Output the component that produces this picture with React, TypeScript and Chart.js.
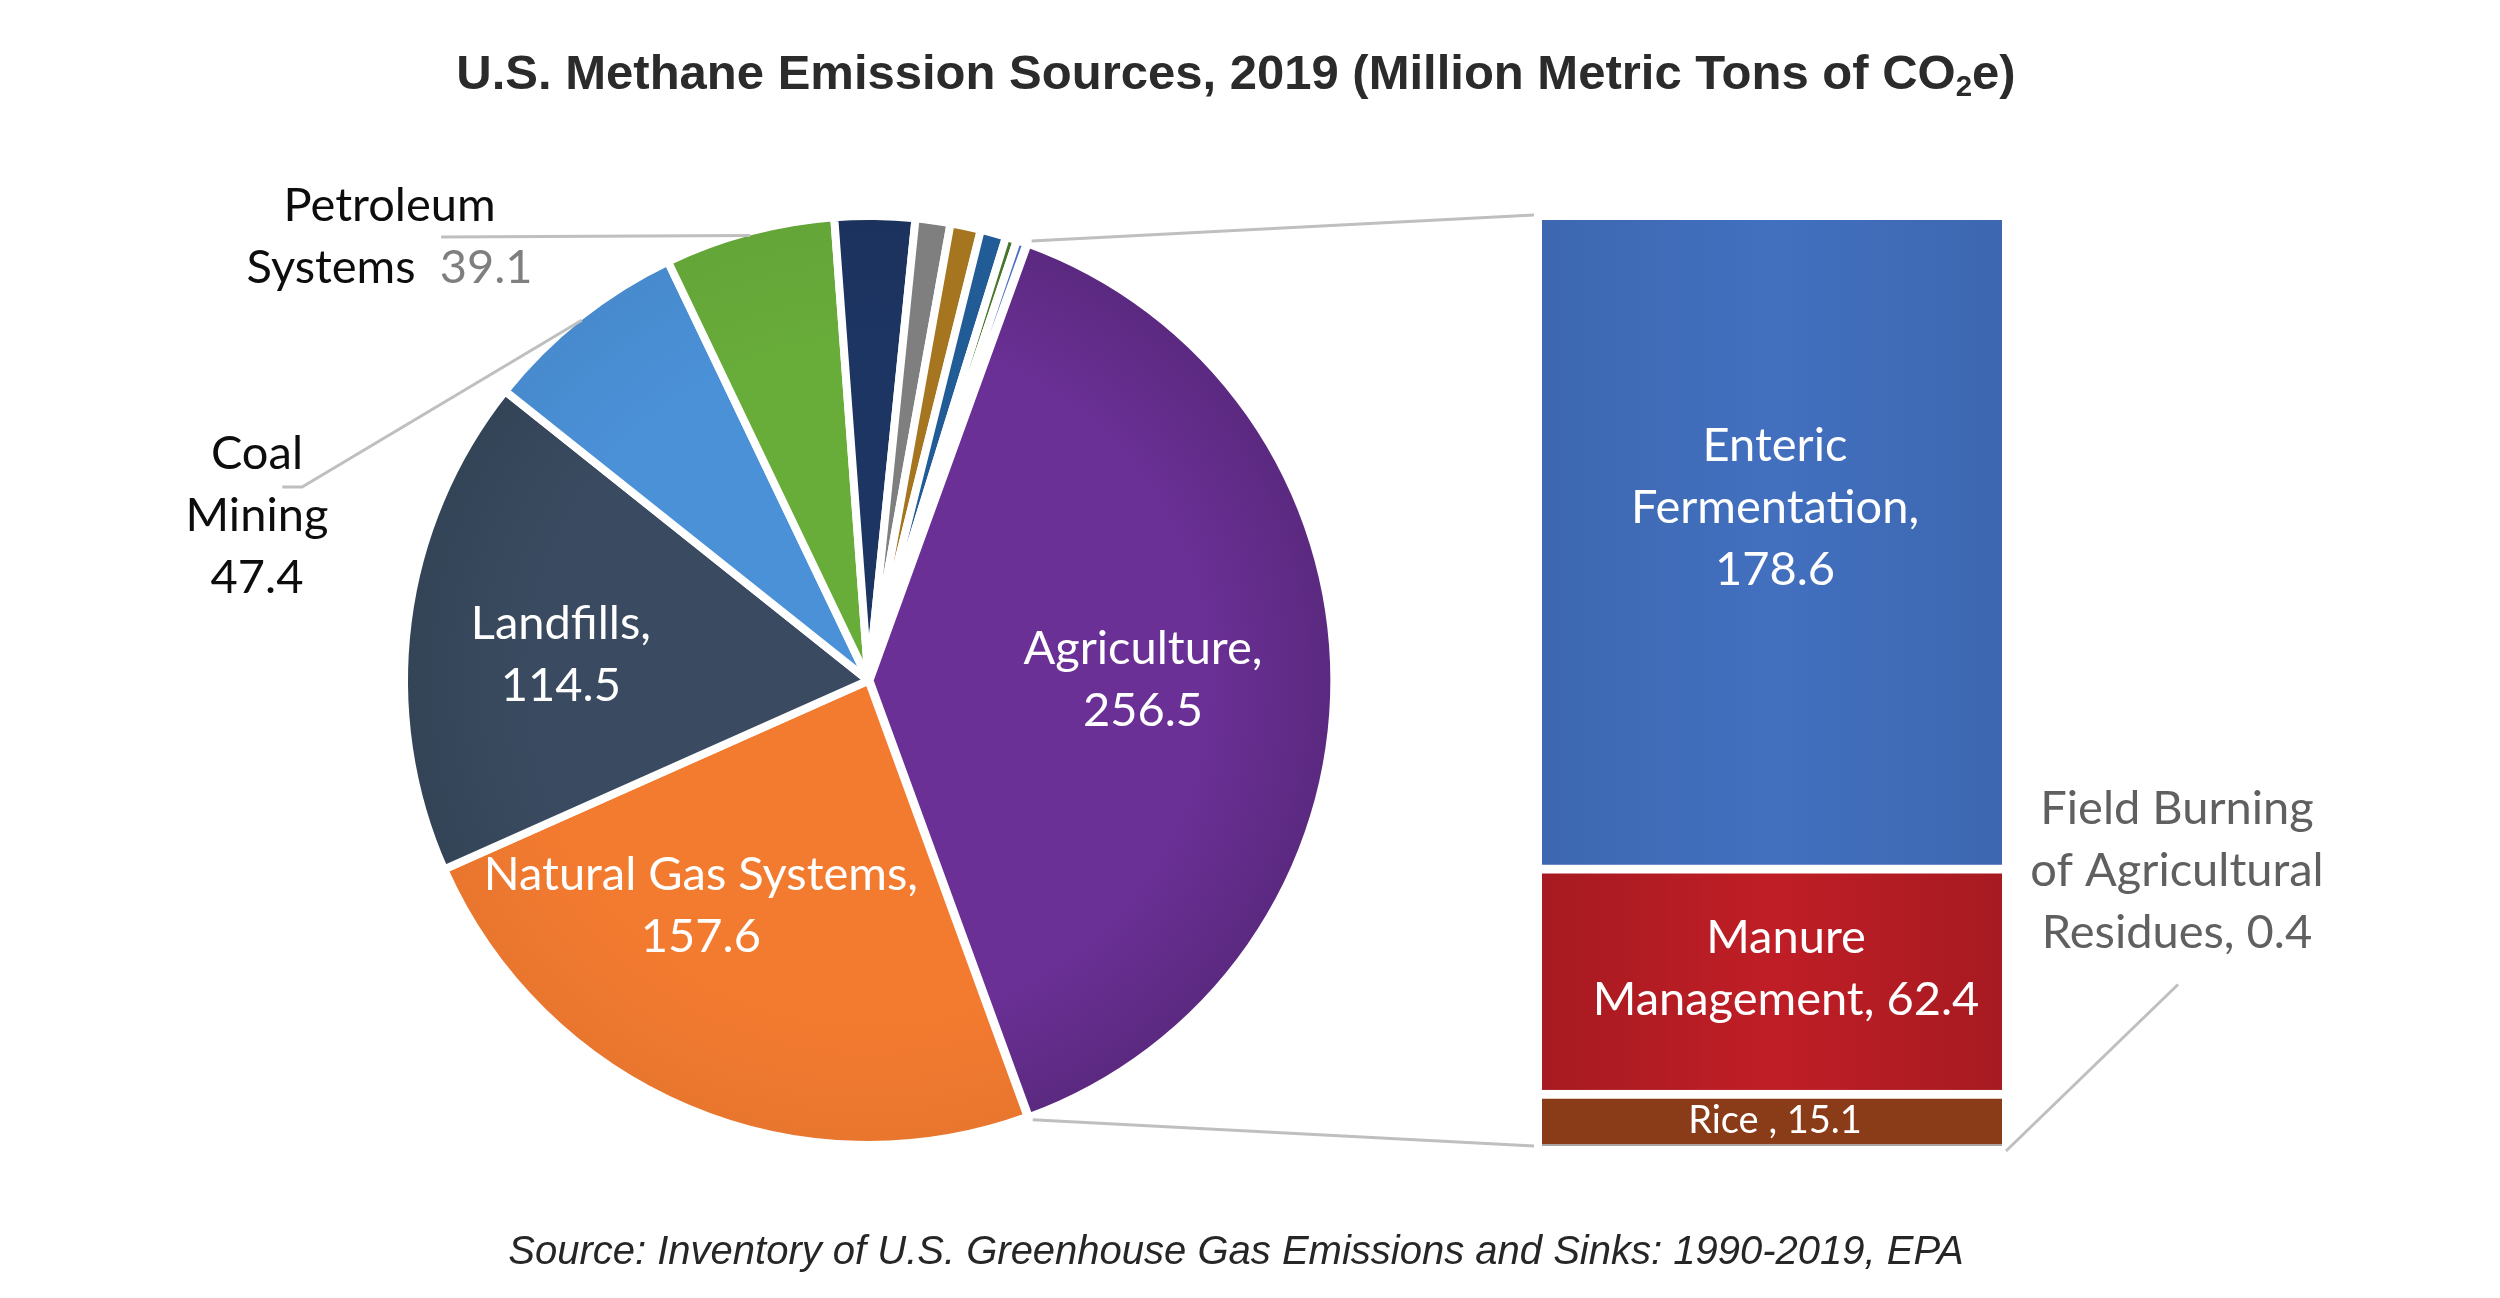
import React, { useEffect, useRef } from "react";
import { Chart, registerables } from "chart.js";

Chart.register(...registerables);

// U.S. methane sources, 2019 (MMT CO2e), clockwise starting with Agriculture
const sourceLabels = [
  "Agriculture",
  "Natural Gas Systems",
  "Landfills",
  "Coal Mining",
  "Petroleum Systems",
  "Wastewater Treatment",
  "Stationary Combustion",
  "Abandoned Oil and Gas Wells",
  "Abandoned Underground Coal Mines",
  "Mobile Combustion",
  "Composting",
];
const sourceValues = [256.5, 157.6, 114.5, 47.4, 39.1, 18.4, 8.0, 7.0, 5.9, 2.6, 2.3];
const sourceColors = [
  "#6b3096",
  "#f37b30",
  "#3a4b61",
  "#4b91d8",
  "#68ac3a",
  "#1d3563",
  "#7f7f7f",
  "#a5751f",
  "#225c96",
  "#47752b",
  "#4a6ec4",
];
// how much each wedge darkens towards the rim
const sourceEdgeShade = [0.15, 0.04, 0.1, 0.05, 0.04, 0.05, 0, 0, 0, 0, 0];

// Agriculture breakdown, stacked bottom to top
const agLabels = [
  "Field Burning of Agricultural Residues",
  "Rice",
  "Manure Management",
  "Enteric Fermentation",
];
const agValues = [0.4, 15.1, 62.4, 178.6];
const agColors = ["#a5a5a5", "#8a3b18", "#c01e26", "#4270bf"];
const agEdgeShade = [0, 0, 0.13, 0.08];

const PAGE_W = 2500;
const PAGE_H = 1298;
const PIE_RADIUS = 464.5;
const PIE_BORDER = 8;
const PIE_ROTATION = 19.9;
const AG_OFFSET = 4;

const LABEL_FAMILY = "Lato, 'Open Sans', sans-serif";
const LABEL_FONT = `47px ${LABEL_FAMILY}`;
const SMALL_FONT = `38px ${LABEL_FAMILY}`;
const LINE_H = 62;
const LEADER_COLOR = "#bfbfbf";

type Run = { t: string; c?: string };

// Label layout around the pie, in units of the visible radius from the pie centre
const pieLabelSpots: Record<string, any> = {
  Agriculture: {
    at: [0.596, -0.001],
    color: "#ffffff",
    text: (v: string): Run[][] => [[{ t: "Agriculture," }], [{ t: v }]],
  },
  "Natural Gas Systems": {
    at: [-0.364, 0.49],
    color: "#ffffff",
    text: (v: string): Run[][] => [[{ t: "Natural Gas Systems," }], [{ t: v }]],
  },
  Landfills: {
    at: [-0.668, -0.056],
    color: "#ffffff",
    text: (v: string): Run[][] => [[{ t: "Landfills," }], [{ t: v }]],
  },
  "Coal Mining": {
    at: [-1.328, -0.358],
    color: "#0d0d0d",
    leader: [
      [-1.23, -0.42],
      [-1.273, -0.42],
    ],
    text: (v: string): Run[][] => [[{ t: "Coal" }], [{ t: "Mining" }], [{ t: v }]],
  },
  "Petroleum Systems": {
    at: [-1.04, -0.963],
    color: "#0d0d0d",
    leader: [[-0.928, -0.963]],
    text: (v: string): Run[][] => [
      [{ t: "Petroleum" }],
      [{ t: "Systems  " }, { t: v, c: "#7f7f7f" }],
    ],
  },
};

// Label layout for the stacked bar, in pixels from each segment's centre
const barLabelSpots: Record<string, any> = {
  "Enteric Fermentation": {
    dx: 3,
    dy: -35,
    font: LABEL_FONT,
    color: "#ffffff",
    text: (v: string): Run[][] => [[{ t: "Enteric" }], [{ t: "Fermentation," }], [{ t: v }]],
  },
  "Manure Management": {
    dx: 14,
    dy: -9,
    font: LABEL_FONT,
    color: "#ffffff",
    text: (v: string): Run[][] => [[{ t: "Manure" }], [{ t: "Management, " + v }]],
  },
  Rice: {
    dx: 3,
    dy: 3,
    font: SMALL_FONT,
    color: "#ffffff",
    text: (v: string): Run[][] => [[{ t: "Rice , " + v }]],
  },
  "Field Burning of Agricultural Residues": {
    outside: true,
    labelAt: [175, -275.5],
    leaderTo: [176, -161.5],
    font: LABEL_FONT,
    color: "#606060",
    text: (v: string): Run[][] => [
      [{ t: "Field Burning" }],
      [{ t: "of Agricultural" }],
      [{ t: "Residues, " + v }],
    ],
  },
};

function shade(hex: string, f: number) {
  const n = parseInt(hex.slice(1), 16);
  const ch = [(n >> 16) & 255, (n >> 8) & 255, n & 255];
  const target = f < 0 ? 0 : 255;
  const p = Math.abs(f);
  const [r, g, b] = ch.map((c) => Math.round(c + (target - c) * p));
  return `rgb(${r},${g},${b})`;
}

function drawBlock(
  ctx: CanvasRenderingContext2D,
  cx: number,
  cy: number,
  lines: Run[][],
  font: string,
  lineH: number,
  color: string
) {
  ctx.save();
  ctx.font = font;
  ctx.textAlign = "left";
  ctx.textBaseline = "middle";
  const n = lines.length;
  lines.forEach((runs, i) => {
    const y = cy + (i - (n - 1) / 2) * lineH;
    const w = runs.reduce((s, r) => s + ctx.measureText(r.t).width, 0);
    let x = cx - w / 2;
    runs.forEach((r) => {
      ctx.fillStyle = r.c || color;
      ctx.fillText(r.t, x, y);
      x += ctx.measureText(r.t).width;
    });
  });
  ctx.restore();
}

function pieFill(c: any) {
  const i = c.dataIndex;
  const base = sourceColors[i];
  const area = c.chart.chartArea;
  if (!area || !sourceEdgeShade[i]) return base;
  const cx = (area.left + area.right) / 2;
  const cy = (area.top + area.bottom) / 2;
  const g = c.chart.ctx.createRadialGradient(cx, cy, 0, cx, cy, PIE_RADIUS);
  g.addColorStop(0, base);
  g.addColorStop(0.72, base);
  g.addColorStop(1, shade(base, -sourceEdgeShade[i]));
  return g;
}

function barFill(c: any, i: number) {
  const base = agColors[i];
  const area = c.chart.chartArea;
  if (!area || !agEdgeShade[i]) return base;
  const g = c.chart.ctx.createLinearGradient(area.left, 0, area.right, 0);
  g.addColorStop(0, shade(base, -agEdgeShade[i]));
  g.addColorStop(0.5, base);
  g.addColorStop(1, shade(base, -agEdgeShade[i]));
  return g;
}

const pieLabelPlugin = {
  id: "pieLabels",
  afterDatasetsDraw(chart: any) {
    const ctx = chart.ctx;
    const meta = chart.getDatasetMeta(0);
    const area = chart.chartArea;
    const cx = (area.left + area.right) / 2;
    const cy = (area.top + area.bottom) / 2;
    const R = PIE_RADIUS - PIE_BORDER / 2;
    sourceLabels.forEach((name, i) => {
      const spot = pieLabelSpots[name];
      if (!spot) return;
      const arc = meta.data[i];
      if (spot.leader) {
        const mid = (arc.startAngle + arc.endAngle) / 2;
        ctx.save();
        ctx.beginPath();
        ctx.moveTo(arc.x + R * Math.cos(mid), arc.y + R * Math.sin(mid));
        spot.leader.forEach(([fx, fy]: number[]) => ctx.lineTo(cx + fx * R, cy + fy * R));
        ctx.strokeStyle = LEADER_COLOR;
        ctx.lineWidth = 3;
        ctx.stroke();
        ctx.restore();
      }
      drawBlock(
        ctx,
        cx + spot.at[0] * R,
        cy + spot.at[1] * R,
        spot.text(sourceValues[i].toFixed(1)),
        LABEL_FONT,
        LINE_H,
        spot.color
      );
    });
  },
};

function makeBarOverlay(pie: any) {
  return {
    id: "barOverlay",
    afterDatasetsDraw(chart: any) {
      const ctx = chart.ctx;
      const segs = agLabels.map((_, i) => chart.getDatasetMeta(i).data[0]);
      const topSeg = segs[segs.length - 1];
      const baseSeg = segs[0];
      const left = topSeg.x - topSeg.width / 2;
      const right = topSeg.x + topSeg.width / 2;

      // connectors from the Agriculture wedge to the breakdown bar
      const ai = sourceLabels.indexOf("Agriculture");
      const arc = pie.getDatasetMeta(0).data[ai];
      const mid = (arc.startAngle + arc.endAngle) / 2;
      const ox = arc.x + Math.cos(mid) * AG_OFFSET;
      const oy = arc.y + Math.sin(mid) * AG_OFFSET;
      const r = arc.outerRadius + 3;
      ctx.save();
      ctx.strokeStyle = LEADER_COLOR;
      ctx.lineWidth = 3;
      ctx.beginPath();
      ctx.moveTo(ox + r * Math.cos(arc.startAngle), oy + r * Math.sin(arc.startAngle));
      ctx.lineTo(left - 8, topSeg.y - 5);
      ctx.moveTo(ox + r * Math.cos(arc.endAngle), oy + r * Math.sin(arc.endAngle));
      ctx.lineTo(left - 8, baseSeg.base);
      ctx.stroke();
      ctx.restore();

      agLabels.forEach((name, i) => {
        const spot = barLabelSpots[name];
        if (!spot) return;
        const el = segs[i];
        const v = agValues[i].toFixed(1);
        if (spot.outside) {
          ctx.save();
          ctx.strokeStyle = LEADER_COLOR;
          ctx.lineWidth = 3;
          ctx.beginPath();
          ctx.moveTo(right + 4, el.base + 5);
          ctx.lineTo(right + spot.leaderTo[0], el.base + spot.leaderTo[1]);
          ctx.stroke();
          ctx.restore();
          drawBlock(
            ctx,
            right + spot.labelAt[0],
            el.base + spot.labelAt[1],
            spot.text(v),
            spot.font,
            LINE_H,
            spot.color
          );
        } else {
          drawBlock(
            ctx,
            el.x + spot.dx,
            (el.y + el.base) / 2 + spot.dy,
            spot.text(v),
            spot.font,
            LINE_H,
            spot.color
          );
        }
      });
    },
  };
}

export default function App() {
  const pieRef = useRef<HTMLCanvasElement>(null);
  const barRef = useRef<HTMLCanvasElement>(null);

  useEffect(() => {
    if (!pieRef.current || !barRef.current) return;

    const pie = new Chart(pieRef.current, {
      type: "pie",
      data: {
        labels: sourceLabels,
        datasets: [
          {
            data: sourceValues,
            backgroundColor: pieFill as any,
            borderColor: "#ffffff",
            borderWidth: PIE_BORDER,
            offset: sourceLabels.map((l) => (l === "Agriculture" ? AG_OFFSET : 0)),
          },
        ],
      },
      options: {
        responsive: false,
        animation: false,
        events: [],
        rotation: PIE_ROTATION,
        radius: PIE_RADIUS,
        layout: { padding: { left: 0, right: 763, top: 63, bottom: 0 } },
        plugins: {
          legend: { display: false },
          tooltip: { enabled: false },
          title: { display: false },
        },
      } as any,
      plugins: [pieLabelPlugin],
    });

    const agTotal = agValues.reduce((s, v) => s + v, 0);
    const bar = new Chart(barRef.current, {
      type: "bar",
      data: {
        labels: ["Agriculture"],
        datasets: agLabels.map((label, i) => ({
          label,
          data: [agValues[i]],
          backgroundColor: ((c: any) => barFill(c, i)) as any,
          borderColor: "#ffffff",
          borderWidth:
            label === "Rice" || label === "Manure Management"
              ? { top: 9, right: 0, bottom: 0, left: 0 }
              : 0,
          borderSkipped: false,
          barPercentage: 1,
          categoryPercentage: 1,
        })),
      },
      options: {
        responsive: false,
        animation: false,
        events: [],
        layout: { padding: { left: 1542, right: PAGE_W - 2002, top: 220, bottom: PAGE_H - 1146 } },
        scales: {
          x: { stacked: true, display: false },
          y: { stacked: true, display: false, min: 0, max: agTotal },
        },
        plugins: {
          legend: { display: false },
          tooltip: { enabled: false },
          title: { display: false },
        },
      } as any,
      plugins: [makeBarOverlay(pie)],
    });

    return () => {
      bar.destroy();
      pie.destroy();
    };
  }, []);

  const canvasStyle: React.CSSProperties = { position: "absolute", left: 0, top: 0, display: "block" };

  return (
    <div
      style={{
        position: "fixed",
        left: 0,
        top: 0,
        width: PAGE_W,
        height: PAGE_H,
        background: "#ffffff",
        overflow: "hidden",
      }}
    >
      <canvas ref={pieRef} width={PAGE_W} height={PAGE_H} style={canvasStyle} />
      <canvas ref={barRef} width={PAGE_W} height={PAGE_H} style={canvasStyle} />
      <div
        style={{
          position: "absolute",
          left: 0,
          width: 2472,
          top: 47,
          textAlign: "center",
          fontFamily: "'Liberation Sans', Arial, Helvetica, sans-serif",
          fontWeight: "bold",
          fontSize: 49,
          lineHeight: "50px",
          color: "#2b2b2b",
          whiteSpace: "nowrap",
        }}
      >
        U.S. Methane Emission Sources, 2019 (Million Metric Tons of CO
        <sub style={{ fontSize: "0.6em", verticalAlign: "-0.25em" }}>2</sub>e)
      </div>
      <div
        style={{
          position: "absolute",
          left: 0,
          width: 2472,
          top: 1229,
          textAlign: "center",
          fontFamily: "'Liberation Sans', Arial, Helvetica, sans-serif",
          fontStyle: "italic",
          fontSize: 40,
          lineHeight: "42px",
          color: "#262626",
          whiteSpace: "nowrap",
        }}
      >
        Source: Inventory of U.S. Greenhouse Gas Emissions and Sinks: 1990-2019, EPA
      </div>
    </div>
  );
}
